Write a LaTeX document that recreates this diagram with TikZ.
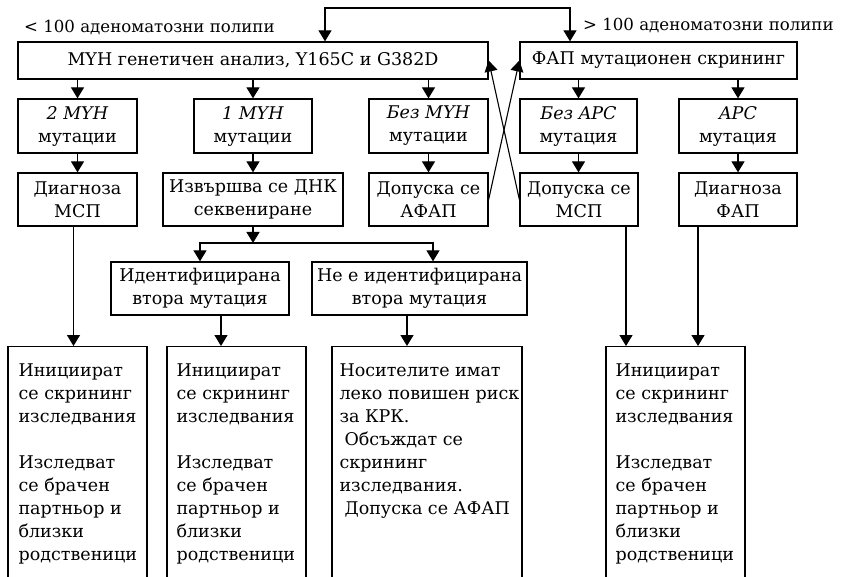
\documentclass[tikz,border=0pt]{standalone}
\usepackage{fontspec}
\setmainfont{DejaVu Serif}
\usetikzlibrary{arrows.meta}
\begin{document}
\begin{tikzpicture}[x=1pt,y=-1pt,
  txt/.style={font=\fontsize{17.5}{23}\selectfont},
  lbl/.style={font=\fontsize{16.6}{20}\selectfont, anchor=west, inner sep=0pt},
  box/.style={txt, draw, line width=1.3pt, align=center, inner sep=0pt},
  bigbox/.style={draw, line width=1.3pt, minimum height=280pt, anchor=north, inner sep=0pt},
  bodytext/.style={txt, align=left, anchor=north west, inner sep=0pt},
  arr/.style={line width=1.3pt, -{Triangle[width=13pt,length=11pt]}},
  arrb/.style={line width=1.3pt, {Triangle[width=13pt,length=11pt]}-{Triangle[width=13pt,length=11pt]}},
  thin/.style={line width=1.1pt, -{Triangle[width=13pt,length=11pt]}}]
\useasboundingbox (0,0) rectangle (843,577);
\clip (0,0) rectangle (843,577);

% labels
\node[lbl] (lblL) at (24,27) {< 100 аденоматозни полипи};
\node[lbl] (lblR) at (583,25) {> 100 аденоматозни полипи};

% row 1
\node[box, minimum width=470pt, minimum height=37pt] (myh) at (253,60.5) {МYH генетичен анализ, Y165C и G382D};
\node[box, minimum width=277pt, minimum height=37pt] (fap) at (658.5,60.5) {ФАП мутационен скрининг};

% row 2
\node[box, minimum width=119pt, minimum height=54pt] (r2a) at (77.5,126) {\textit{2 MYH}\\мутации};
\node[box, minimum width=118pt, minimum height=54pt] (r2b) at (253,126) {\textit{1 MYH}\\мутации};
\node[box, minimum width=119pt, minimum height=54pt] (r2c) at (428.5,126) {\textit{Без MYH}\\мутации};
\node[box, minimum width=117pt, minimum height=54pt] (r2d) at (578.5,126) {\textit{Без APC}\\мутация};
\node[box, minimum width=118pt, minimum height=54pt] (r2e) at (738,126) {\textit{APC}\\мутация};

% row 3
\node[box, minimum width=119pt, minimum height=53pt] (r3a) at (77.5,199.5) {Диагноза\\МСП};
\node[box, minimum width=180pt, minimum height=53pt] (r3b) at (253,199.5) {Извършва се ДНК\\секвениране};
\node[box, minimum width=119pt, minimum height=53pt] (r3c) at (428.5,199.5) {Допуска се\\АФАП};
\node[box, minimum width=118pt, minimum height=53pt] (r3d) at (579,199.5) {Допуска се\\МСП};
\node[box, minimum width=118pt, minimum height=53pt] (r3e) at (738,199.5) {Диагноза\\ФАП};

% row 4
\node[box, minimum width=178pt, minimum height=53pt] (r4a) at (200,288.5) {Идентифицирана\\втора мутация};
\node[box, minimum width=215pt, minimum height=53pt] (r4b) at (419.5,288.5) {Не е идентифицирана\\втора мутация};

% bottom boxes
\node[bigbox, minimum width=139pt] (b1) at (77.5,346) {};
\node[bigbox, minimum width=139pt] (b2) at (236.5,346) {};
\node[bigbox, minimum width=190pt] (b3) at (427,346) {};
\node[bigbox, minimum width=139pt] (b4) at (675.5,346) {};

\node[bodytext] (t1) at ([xshift=11pt,yshift=-18pt]b1.north west) {Инициират\\се скрининг\\изследвания\\[23pt]Изследват\\се брачен\\партньор и\\близки\\родственици};
\node[bodytext] (t2) at ([xshift=10pt,yshift=-18pt]b2.north west) {Инициират\\се скрининг\\изследвания\\[23pt]Изследват\\се брачен\\партньор и\\близки\\родственици};
\node[bodytext] (t3) at ([xshift=8pt,yshift=-18pt]b3.north west) {Носителите имат\\леко повишен риск\\за КРК.\\\hspace*{5pt}Обсъждат се\\скрининг\\изследвания.\\\hspace*{5pt}Допуска се АФАП};
\node[bodytext] (t4) at ([xshift=10pt,yshift=-18pt]b4.north west) {Инициират\\се скрининг\\изследвания\\[23pt]Изследват\\се брачен\\партньор и\\близки\\родственици};

% top loop
\coordinate (tl) at (325,8);
\coordinate (tr) at (570,8);
\draw[arrb] (myh.north -| tl) -- (tl) -- (tr) -- (fap.north -| tr);

% row1 -> row2
\foreach \n in {r2a,r2b,r2c} \draw[arr] (myh.south -| \n.north) -- (\n.north);
\foreach \n in {r2d,r2e} \draw[arr] (fap.south -| \n.north) -- (\n.north);

% row2 -> row3
\draw[arr] (r2a) -- (r3a);
\draw[arr] (r2b.south) -- (r3b.north);
\draw[arr] (r2c.south) -- (r3c.north);
\draw[arr] (r2d.south) -- (r2d.south |- r3d.north);
\draw[arr] (r2e.south) -- (r3e.north);

% cross arrows
\draw[thin] (r3c.east) -- (fap.west);
\draw[thin] (r3d.west) -- (myh.east);

% sequencing branch
\coordinate (jn) at (253,243);
\draw[arr] (r3b.south) -- (jn);
\draw[arr] (jn) -| (r4a.north);
\draw[arr] (jn) -| ([xshift=13.5pt]r4b.north);

% to bottom boxes
\draw[arr] ([xshift=-4pt]r3a.south) -- ([xshift=-4pt]r3a.south |- b1.north);
\draw[arr] ([xshift=21pt]r4a.south) -- ([xshift=21pt]r4a.south |- b2.north);
\draw[arr] ([xshift=-12.5pt]r4b.south) -- ([xshift=-12.5pt]r4b.south |- b3.north);
\draw[arr] ([xshift=47pt]r3d.south) -- ([xshift=47pt]r3d.south |- b4.north);
\draw[arr] ([xshift=-40pt]r3e.south) -- ([xshift=-40pt]r3e.south |- b4.north);
\end{tikzpicture}
\end{document}
